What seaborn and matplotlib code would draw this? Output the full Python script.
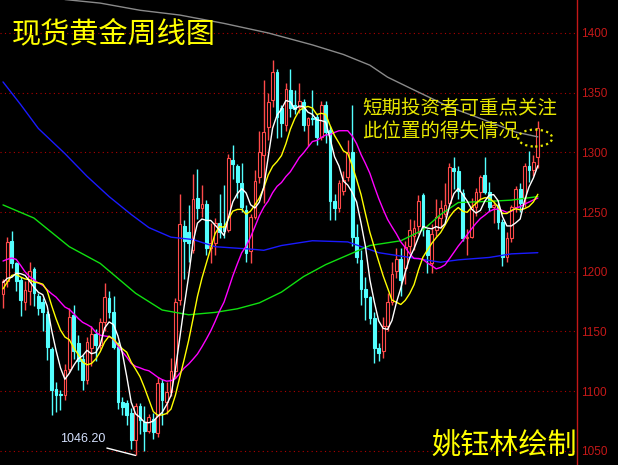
import numpy as np
import pandas as pd
import seaborn as sns
import matplotlib.pyplot as plt
from matplotlib.patches import Ellipse

# weekly spot gold, 2015-05-08 .. 2017-09-01
weeks = pd.date_range('2015-05-08', periods=122, freq='7D')

opens = [1181, 1192, 1226, 1207, 1193, 1175, 1184, 1202, 1180, 1175,
         1165, 1135, 1102, 1098, 1097, 1119, 1164, 1140, 1127, 1109,
         1136, 1148, 1139, 1158, 1178, 1166, 1137, 1091, 1090, 1082,
         1059, 1088, 1074, 1067, 1077, 1065, 1107, 1091, 1099, 1117,
         1176, 1238, 1233, 1218, 1262, 1253, 1257, 1220, 1224, 1241,
         1238, 1235, 1294, 1289, 1274, 1252, 1217, 1246, 1279, 1298,
         1321, 1344, 1367, 1337, 1323, 1352, 1340, 1338, 1342, 1323,
         1329, 1330, 1313, 1340, 1319, 1259, 1253, 1268, 1279, 1300,
         1229, 1210, 1186, 1179, 1161, 1136, 1134, 1155, 1175, 1201,
         1211, 1203, 1222, 1230, 1238, 1264, 1235, 1207, 1235, 1245,
         1248, 1258, 1287, 1284, 1266, 1228, 1229, 1254, 1267, 1281,
         1267, 1254, 1256, 1242, 1212, 1228, 1254, 1269, 1262, 1289,
         1285, 1296]
highs = [1194, 1229, 1234, 1208, 1196, 1192, 1208, 1204, 1182, 1178,
         1167, 1137, 1108, 1101, 1123, 1170, 1172, 1147, 1130, 1145,
         1155, 1152, 1161, 1191, 1184, 1180, 1141, 1095, 1093, 1086,
         1090, 1090, 1088, 1081, 1082, 1112, 1110, 1108, 1128, 1178,
         1265, 1243, 1256, 1282, 1286, 1273, 1260, 1241, 1245, 1265,
         1273, 1299, 1306, 1290, 1291, 1256, 1248, 1285, 1318, 1361,
         1350, 1377, 1370, 1340, 1358, 1370, 1352, 1358, 1345, 1330,
         1352, 1332, 1343, 1343, 1322, 1265, 1277, 1284, 1310, 1340,
         1240, 1218, 1196, 1180, 1166, 1140, 1162, 1182, 1208, 1220,
         1220, 1226, 1244, 1243, 1264, 1266, 1236, 1240, 1261, 1260,
         1274, 1291, 1296, 1289, 1269, 1236, 1262, 1270, 1281, 1296,
         1275, 1260, 1258, 1244, 1233, 1256, 1272, 1274, 1291, 1301,
         1298, 1326]
lows = [1170, 1187, 1203, 1184, 1163, 1168, 1172, 1171, 1164, 1150,
        1126, 1080, 1083, 1084, 1093, 1116, 1127, 1118, 1101, 1106,
        1121, 1125, 1135, 1150, 1161, 1135, 1085, 1080, 1072, 1052,
        1046.2, 1064, 1050, 1065, 1060, 1062, 1072, 1081, 1096, 1111,
        1172, 1194, 1208, 1216, 1244, 1246, 1214, 1207, 1214, 1228,
        1228, 1233, 1278, 1262, 1250, 1208, 1207, 1244, 1274, 1258,
        1310, 1338, 1312, 1313, 1318, 1330, 1332, 1333, 1318, 1305,
        1323, 1306, 1310, 1308, 1243, 1243, 1250, 1264, 1276, 1222,
        1207, 1172, 1160, 1156, 1124, 1125, 1128, 1150, 1172, 1195,
        1180, 1190, 1216, 1218, 1232, 1230, 1199, 1199, 1230, 1237,
        1246, 1255, 1269, 1261, 1226, 1214, 1228, 1247, 1260, 1265,
        1251, 1241, 1236, 1205, 1208, 1225, 1250, 1250, 1254, 1275,
        1280, 1287]
closes = [1192, 1225, 1207, 1192, 1176, 1185, 1201, 1182, 1170, 1166,
          1137, 1101, 1097, 1097, 1118, 1162, 1134, 1125, 1109, 1141,
          1148, 1139, 1158, 1179, 1166, 1137, 1091, 1087, 1080, 1059,
          1088, 1076, 1067, 1078, 1066, 1107, 1093, 1099, 1117, 1175,
          1240, 1226, 1224, 1261, 1253, 1257, 1220, 1224, 1241, 1233,
          1234, 1295, 1290, 1275, 1254, 1216, 1246, 1276, 1300, 1317,
          1342, 1367, 1330, 1325, 1353, 1337, 1336, 1343, 1323, 1329,
          1328, 1313, 1340, 1317, 1259, 1253, 1274, 1277, 1300, 1229,
          1212, 1186, 1179, 1161, 1136, 1132, 1155, 1175, 1198, 1211,
          1193, 1221, 1235, 1237, 1259, 1238, 1214, 1232, 1246, 1253,
          1256, 1288, 1284, 1268, 1228, 1229, 1254, 1267, 1279, 1267,
          1254, 1256, 1242, 1212, 1228, 1254, 1269, 1258, 1289, 1285,
          1292, 1320]
# closes of the 19 weeks before the first candle, only to seed the averages
lead_in_close = [1195, 1186, 1216, 1277, 1293, 1279, 1234, 1227, 1203, 1213,
                 1167, 1152, 1183, 1199, 1201, 1207, 1203, 1175, 1178]

# long averages (week index -> price)
ma60_week = [0, 7, 15, 22, 30, 36, 42, 48, 53, 58, 63, 68, 73, 78, 83, 90, 95, 99, 103, 110, 115, 121]
ma60_value = [1256, 1245, 1221, 1207, 1182, 1168, 1164, 1166, 1169, 1174, 1183, 1196, 1206, 1214,
              1222, 1226, 1235, 1248, 1258, 1259, 1260, 1263]
ma120_week = [0, 4, 8, 14, 19, 24, 29, 33, 38, 43, 48, 56, 59, 63, 70, 78, 85, 92, 99, 103, 110, 115, 121]
ma120_value = [1359, 1340, 1320, 1299, 1280, 1263, 1248, 1237, 1229, 1227, 1221, 1219, 1218, 1222,
               1226, 1225, 1216, 1212, 1208, 1210, 1212, 1215, 1216]
ma250_week = [14, 22, 31, 40, 50, 60, 70, 77, 83, 87, 92, 101, 109, 116, 121]
ma250_value = [1428, 1425, 1419, 1415, 1408, 1400, 1390, 1382, 1373, 1363, 1354, 1338, 1327, 1317, 1313]

price_ticks = [1050, 1100, 1150, 1200, 1250, 1300, 1350, 1400]

UP = '#ff4a4a'
DOWN = '#54ffff'
AXIS_RED = '#c41818'

sns.set_style('dark', rc={'axes.facecolor': 'black', 'figure.facecolor': 'black'})
plt.rcParams['font.family'] = ['Noto Sans CJK SC', 'DejaVu Sans']

df = pd.DataFrame({'week': weeks, 'open': opens, 'high': highs, 'low': lows, 'close': closes})
df['i'] = np.arange(len(df))
full_close = pd.Series(lead_in_close + closes)
n0 = len(lead_in_close)
for n in (5, 10, 20):
    df['ma%d' % n] = full_close.rolling(n, min_periods=1).mean().iloc[n0:].values

fig = plt.figure(figsize=(6.18, 4.65), dpi=100)
ax = fig.add_axes([0, 0, 577 / 618, 1])

# candles: hollow red for up weeks, solid cyan for down weeks
up = df[df.close >= df.open]
dn = df[df.close < df.open]
ax.vlines(up.i, up.low, up.high, color=UP, lw=1, zorder=2)
ax.vlines(dn.i, dn.low, dn.high, color=DOWN, lw=1, zorder=2)
ax.bar(up.i, (up.close - up.open).clip(lower=0.6), bottom=up.open, width=0.62,
       facecolor='black', edgecolor=UP, linewidth=0.8, zorder=2)
ax.bar(dn.i, (dn.open - dn.close).clip(lower=0.6), bottom=dn.close, width=0.62,
       facecolor=DOWN, edgecolor=DOWN, linewidth=0.8, zorder=2)

# moving averages
sns.lineplot(x=ma250_week, y=ma250_value, color='#8a8a8a', lw=1, ax=ax, zorder=3)
sns.lineplot(x=ma120_week, y=ma120_value, color='#1a1aff', lw=1, ax=ax, zorder=3)
sns.lineplot(x=ma60_week, y=ma60_value, color='#10e010', lw=1, ax=ax, zorder=3)
sns.lineplot(data=df, x='i', y='ma20', color='#ff00ff', lw=1, ax=ax, zorder=3)
sns.lineplot(data=df, x='i', y='ma10', color='#ffff00', lw=1, ax=ax, zorder=3)
sns.lineplot(data=df, x='i', y='ma5', color='white', lw=1, ax=ax, zorder=3)

ax.set_xlim(-0.68, 129.86)
ax.set_ylim(1038.2, 1427.6)

# price axis on the right
ax.yaxis.tick_right()
ax.set_yticks(price_ticks)
ax.set_yticklabels([str(p) for p in price_ticks], family=['Liberation Sans', 'DejaVu Sans'],
                   fontsize=8.5, color=AXIS_RED)
ax.tick_params(axis='y', length=0, pad=3)
ax.set_xticks([])
ax.set_xlabel('')
ax.set_ylabel('')
for side in ('top', 'left', 'bottom'):
    ax.spines[side].set_visible(False)
ax.spines['right'].set_visible(True)
ax.spines['right'].set_color(AXIS_RED)
ax.spines['right'].set_linewidth(1)
ax.grid(False)
for p in price_ticks:
    ax.axhline(p, color='#b00000', lw=0.8, ls=(0, (1, 3)), zorder=1)

# texts
ax.text(0.021, 0.926, '现货黄金周线图', transform=ax.transAxes, color='#ffff00',
        fontsize=21, va='center', ha='left')
ax.text(0.627, 0.742, '短期投资者可重点关注\n此位置的得失情况', transform=ax.transAxes,
        color='#e8e800', fontsize=14, va='center', ha='left', linespacing=1.1)
ax.text(0.748, 0.040, '姚钰林绘制', transform=ax.transAxes, color='#ffff00',
        fontsize=21, va='center', ha='left')

low_i = int(np.argmin(lows))
ax.plot([low_i - 6.5, low_i], [1052.4, lows[low_i]], color='white', lw=1, zorder=3)
ax.text(low_i - 6.8, 1060, '%.2f' % lows[low_i], color='#d6e2ff', fontsize=9,
        family=['Liberation Sans', 'DejaVu Sans'], ha='right', va='center')

ax.add_patch(Ellipse((120.4, 1312), 7.7, 14.2, fill=False, edgecolor='#e8e800',
                     lw=1.6, ls=(0, (1, 1.5)), zorder=4))

fig.savefig('out.png', dpi=100, facecolor='black')
